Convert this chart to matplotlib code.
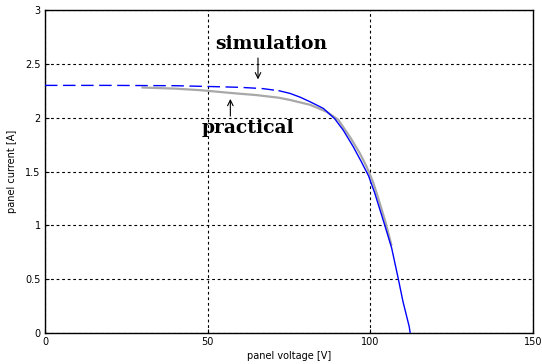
import matplotlib
matplotlib.use("Agg")
import matplotlib.pyplot as plt

# Simulation curve (V, I)
sim_v = [0, 20, 40, 50, 60, 67, 72, 75.3, 78.5, 81.5, 85.6, 89.1, 91.7, 94.8, 97.3, 99.5,
         101.4, 104.5, 106.6, 108.6, 110.1, 112, 112.3]
sim_i = [2.30, 2.30, 2.297, 2.29, 2.282, 2.27, 2.25, 2.226, 2.19, 2.148, 2.086, 1.99, 1.885,
         1.73, 1.59, 1.46, 1.30, 1.00, 0.79, 0.51, 0.29, 0.06, 0.0]
dash_end = 70  # simulated part shown dashed up to this voltage

# Practical measurement curve
prac_v = [30, 40, 48, 57, 65, 72, 75.3, 81.5, 86.6, 90.2, 93.8, 96.8, 98.9, 100.9, 102.5, 104.8, 106.5]
prac_i = [2.28, 2.27, 2.255, 2.23, 2.21, 2.185, 2.165, 2.12, 2.055, 1.98, 1.82, 1.67, 1.545,
          1.40, 1.25, 1.02, 0.82]

xticks = [0, 50, 100, 150]
yticks = [0, 0.5, 1, 1.5, 2, 2.5, 3]

fig = plt.figure(figsize=(5.42, 3.64), dpi=100)
ax = fig.add_axes([0.083, 0.085, 0.9, 0.8875])

ax.plot(prac_v, prac_i, color="#a8a8a8", lw=1.6, zorder=2)

n_dash = sum(1 for v in sim_v if v <= dash_end)
ax.plot(sim_v[:n_dash + 1], sim_i[:n_dash + 1], color="#0000ff", lw=1.0, dashes=(9, 4), zorder=3)
ax.plot(sim_v[n_dash:], sim_i[n_dash:], color="#0000ff", lw=1.0, zorder=3)

ax.set_xlim(0, 150)
ax.set_ylim(0, 3)
ax.set_xticks(xticks)
ax.set_yticks(yticks)
ax.set_xticklabels([str(t) for t in xticks])
ax.set_yticklabels(["0", "0.5", "1", "1.5", "2", "2.5", "3"])
ax.tick_params(direction="in", length=3, labelsize=7, pad=3)
ax.grid(True, color="black", linestyle=(0, (2.5, 2.5)), lw=0.8)
for s in ax.spines.values():
    s.set_linewidth(1.0)

ax.set_xlabel("panel voltage [V]", fontsize=7, labelpad=3)
ax.set_ylabel("panel current [A]", fontsize=7, labelpad=6)

ax.text(69.5, 2.68, "simulation", family="DejaVu Serif", fontweight="bold",
        fontsize=13.5, ha="center", va="center")
ax.annotate("", xy=(65.5, 2.33), xytext=(65.5, 2.58),
            arrowprops=dict(arrowstyle="->", color="black", lw=0.8))
ax.text(62.5, 1.90, "practical", family="DejaVu Serif", fontweight="bold",
        fontsize=13.5, ha="center", va="center")
ax.annotate("", xy=(57, 2.20), xytext=(57, 1.99),
            arrowprops=dict(arrowstyle="->", color="black", lw=0.8))

fig.savefig("out.png", dpi=100)
